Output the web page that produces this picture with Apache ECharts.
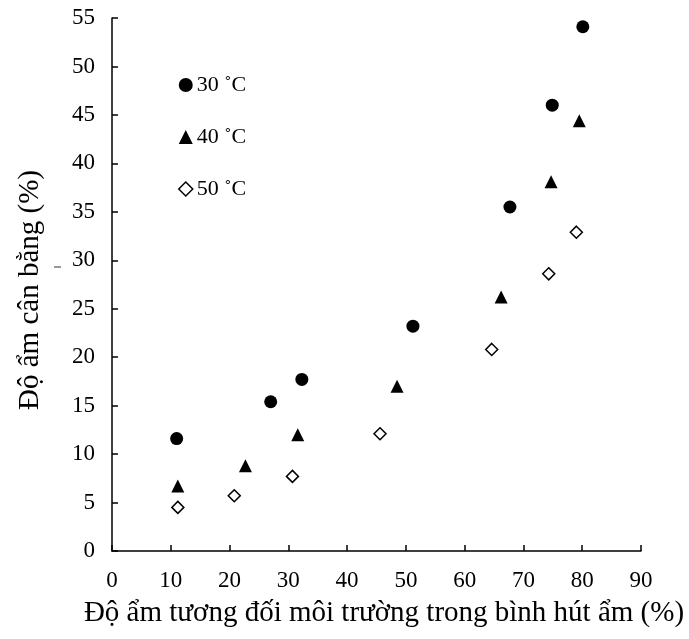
<!DOCTYPE html>
<html>
<head>
<meta charset="utf-8">
<script src="https://cdn.jsdelivr.net/npm/echarts@6/dist/echarts.min.js"></script>
<style>html,body{margin:0;padding:0;background:#fff;}#c{width:689px;height:639px;}</style>
</head>
<body>
<div id="c"></div>
<script>
var seriesNames = ['30 ˚C', '40 ˚C', '50 ˚C'];
var rh30 = [11.0, 27.0, 32.3, 51.2, 67.7, 74.9, 80.1];
var emc30 = [11.6, 15.4, 17.7, 23.2, 35.5, 46.0, 54.1];
var rh40 = [11.2, 22.7, 31.6, 48.5, 66.2, 74.7, 79.5];
var emc40 = [6.7, 8.8, 12.0, 17.0, 26.2, 38.1, 44.4];
var rh50 = [11.2, 20.8, 30.7, 45.6, 64.6, 74.3, 79.0];
var emc50 = [4.5, 5.7, 7.7, 12.1, 20.8, 28.6, 32.9];
var xTitle = 'Độ ẩm tương đối môi trường trong bình hút ẩm (%)';
var yTitle = 'Độ ẩm cân bằng (%)';

function pairs(xs, ys) { return xs.map(function (x, i) { return [x, ys[i]]; }); }

var font = '"Liberation Serif", "Times New Roman", serif';
var chart = echarts.init(document.getElementById('c'), null, {renderer: 'canvas'});
chart.setOption({
  backgroundColor: '#fff',
  animation: false,
  textStyle: {fontFamily: font, color: '#000'},
  grid: {left: 112, right: 48, top: 18, bottom: 88, containLabel: false},
  legend: {
    orient: 'vertical', left: 173, top: 69, itemGap: 30,
    itemWidth: 14, itemHeight: 14,
    textStyle: {fontFamily: font, fontSize: 22, color: '#000', padding: [0, 0, 0, -1]},
    data: [
      {name: seriesNames[0], icon: 'circle', itemStyle: {color: '#000', opacity: 1}},
      {name: seriesNames[1], icon: 'triangle', itemStyle: {color: '#000', opacity: 1}},
      {name: seriesNames[2], icon: 'diamond', itemStyle: {color: '#fff', borderColor: '#000', borderWidth: 1.5, opacity: 1}}
    ]
  },
  xAxis: {
    type: 'value', min: 0, max: 90, interval: 10,
    axisLine: {show: true, lineStyle: {color: '#000', width: 1.5}},
    axisTick: {show: true, inside: true, length: 6, lineStyle: {color: '#000', width: 1.5}},
    axisLabel: {fontFamily: font, fontSize: 23, color: '#000', margin: 18},
    splitLine: {show: false}
  },
  yAxis: {
    type: 'value', min: 0, max: 55, interval: 5,
    axisLine: {show: true, lineStyle: {color: '#000', width: 1.5}},
    axisTick: {show: true, inside: true, length: 6, lineStyle: {color: '#000', width: 1.5}},
    axisLabel: {fontFamily: font, fontSize: 23, color: '#000', margin: 17},
    splitLine: {show: false}
  },
  series: [
    {name: seriesNames[0], type: 'scatter', symbol: 'circle', symbolSize: 13,
     itemStyle: {color: '#000', opacity: 1}, data: pairs(rh30, emc30)},
    {name: seriesNames[1], type: 'scatter', symbol: 'triangle', symbolSize: 13,
     itemStyle: {color: '#000', opacity: 1}, data: pairs(rh40, emc40)},
    {name: seriesNames[2], type: 'scatter', symbol: 'diamond', symbolSize: 12,
     itemStyle: {color: '#fff', borderColor: '#000', borderWidth: 1.5, opacity: 1}, data: pairs(rh50, emc50)}
  ],
  graphic: [
    {type: 'text', x: 384, y: 613,
     style: {text: xTitle, font: '29px ' + font, fill: '#000', align: 'center', verticalAlign: 'middle'}},
    {type: 'text', x: 30, y: 290, rotation: Math.PI / 2,
     style: {text: yTitle, font: '29px ' + font, fill: '#000', align: 'center', verticalAlign: 'middle'}},
    {type: 'line', shape: {x1: 54, y1: 267, x2: 61, y2: 267}, style: {stroke: '#333', lineWidth: 1}}
  ]
});
</script>
</body>
</html>
